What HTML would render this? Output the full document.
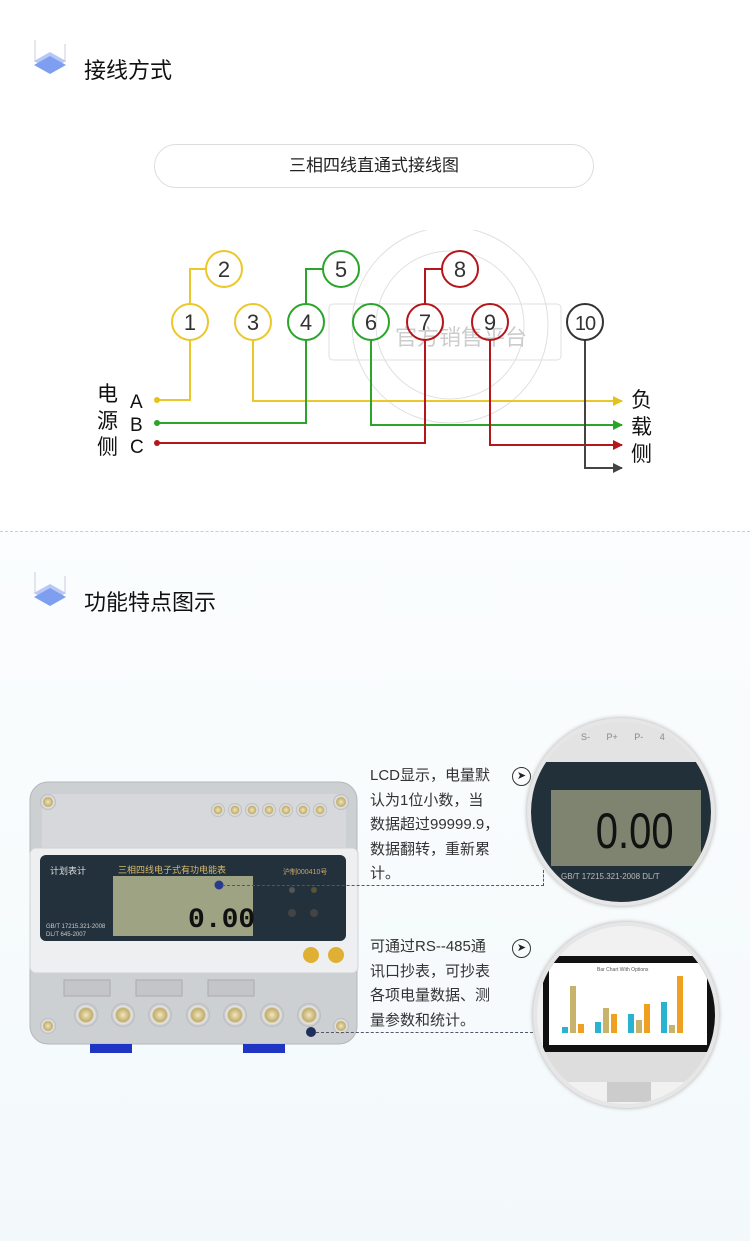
<!DOCTYPE html>
<html><head><meta charset="utf-8"><style>
*{margin:0;padding:0;box-sizing:border-box}
body{width:750px;height:1241px;position:relative;overflow:hidden;background:#fff;font-family:"Liberation Sans","Noto Sans CJK SC",sans-serif;color:#222}
.abs{position:absolute}
.h{font-size:22px;color:#111}
.txt{font-size:15px;line-height:24.5px;color:#333}
</style></head><body>
<div class="abs" style="left:0;top:532px;width:750px;height:709px;background:linear-gradient(#fbfdfe,#f3f9fb)"></div>
<div class="abs" style="left:0;top:531px;width:750px;border-top:1px dashed #ccc"></div>

<svg class="abs" style="left:32px;top:40px" width="40" height="40">
<line x1="3" y1="0" x2="3" y2="22" stroke="#ccd"/>
<line x1="33" y1="4" x2="33" y2="22" stroke="#ccd"/>
<polygon points="18,12 34,21 18,30 2,21" fill="#b8c8f6"/>
<polygon points="18,16 34,25 18,34 2,25" fill="#7e9ff0"/>
</svg>
<div class="abs h" style="left:84px;top:53px">接线方式</div>
<svg class="abs" style="left:32px;top:572px" width="40" height="40">
<line x1="3" y1="0" x2="3" y2="22" stroke="#ccd"/>
<line x1="33" y1="4" x2="33" y2="22" stroke="#ccd"/>
<polygon points="18,12 34,21 18,30 2,21" fill="#b8c8f6"/>
<polygon points="18,16 34,25 18,34 2,25" fill="#7e9ff0"/>
</svg>
<div class="abs h" style="left:84px;top:585px">功能特点图示</div>

<div class="abs" style="left:154px;top:144px;width:440px;height:44px;border:1px solid #ddd;border-radius:22px;text-align:center;line-height:42px;font-size:17px;color:#222">三相四线直通式接线图</div>

<svg class="abs" style="left:0;top:230px" width="750" height="260" font-family="Liberation Sans,sans-serif">
<defs>
<marker id="ay" markerWidth="10" markerHeight="10" refX="9" refY="5" orient="auto" markerUnits="userSpaceOnUse"><path d="M0,0L10,5L0,10z" fill="#e4c21c"/></marker>
<marker id="ag" markerWidth="10" markerHeight="10" refX="9" refY="5" orient="auto" markerUnits="userSpaceOnUse"><path d="M0,0L10,5L0,10z" fill="#2aa52a"/></marker>
<marker id="ar" markerWidth="10" markerHeight="10" refX="9" refY="5" orient="auto" markerUnits="userSpaceOnUse"><path d="M0,0L10,5L0,10z" fill="#b5161b"/></marker>
<marker id="ak" markerWidth="10" markerHeight="10" refX="9" refY="5" orient="auto" markerUnits="userSpaceOnUse"><path d="M0,0L10,5L0,10z" fill="#444"/></marker>
</defs>
<g opacity="0.3" fill="none" stroke="#999">
<circle cx="450" cy="95" r="98"/><circle cx="450" cy="95" r="74"/>
<rect x="329" y="74" width="232" height="56" rx="4"/>
</g>
<text x="395" y="115" font-size="22" fill="#ccc" font-family="Noto Sans CJK SC,sans-serif">官方销售平台</text>
<g fill="none" stroke-width="2">
<path d="M157,170H190V109" stroke="#ecc72a"/>
<path d="M190,75V39H207" stroke="#ecc72a"/>
<path d="M253,109V171H622" stroke="#ecc72a" marker-end="url(#ay)"/>
<path d="M157,193H306V109" stroke="#2aa52a"/>
<path d="M306,75V39H324" stroke="#2aa52a"/>
<path d="M371,109V195H622" stroke="#2aa52a" marker-end="url(#ag)"/>
<path d="M157,213H425V109" stroke="#b5161b"/>
<path d="M425,75V39H443" stroke="#b5161b"/>
<path d="M490,109V215H622" stroke="#b5161b" marker-end="url(#ar)"/>
<path d="M585,109V238H622" stroke="#444" marker-end="url(#ak)"/>
</g>
<circle cx="157" cy="170" r="3" fill="#e4c21c"/><circle cx="157" cy="193" r="3" fill="#2aa52a"/><circle cx="157" cy="213" r="3" fill="#b5161b"/>
<g fill="none" stroke-width="2">
<circle cx="190" cy="92" r="18" stroke="#ecc72a"/><circle cx="224" cy="39" r="18" stroke="#ecc72a"/><circle cx="253" cy="92" r="18" stroke="#ecc72a"/>
<circle cx="306" cy="92" r="18" stroke="#2aa52a"/><circle cx="341" cy="39" r="18" stroke="#2aa52a"/><circle cx="371" cy="92" r="18" stroke="#2aa52a"/>
<circle cx="425" cy="92" r="18" stroke="#b5161b"/><circle cx="460" cy="39" r="18" stroke="#b5161b"/><circle cx="490" cy="92" r="18" stroke="#b5161b"/>
<circle cx="585" cy="92" r="18" stroke="#333"/>
</g>
<g font-size="22" fill="#333" text-anchor="middle">
<text x="190" y="100">1</text><text x="224" y="47">2</text><text x="253" y="100">3</text><text x="306" y="100">4</text><text x="341" y="47">5</text><text x="371" y="100">6</text><text x="425" y="100">7</text><text x="460" y="47">8</text><text x="490" y="100">9</text><text x="585" y="100" font-size="20" letter-spacing="-1">10</text>
</g>
<g font-size="21" fill="#111" font-family="Liberation Sans,Noto Sans CJK SC,sans-serif">
<text x="97" y="171">电</text><text x="97" y="198">源</text><text x="97" y="224">侧</text>
<text x="130" y="178" font-size="19">A</text><text x="130" y="201" font-size="19">B</text><text x="130" y="223" font-size="19">C</text>
<text x="631" y="177">负</text><text x="631" y="204">载</text><text x="631" y="231">侧</text>
</g>
</svg>

<!-- meter -->
<svg class="abs" style="left:28px;top:780px" width="332" height="275" font-family="Liberation Sans,Noto Sans CJK SC,sans-serif">
<defs>
<radialGradient id="sc"><stop offset="0" stop-color="#f0e6c0"/><stop offset="0.55" stop-color="#c2ae6c"/><stop offset="0.7" stop-color="#e6e6e6"/><stop offset="1" stop-color="#b5b7ba"/></radialGradient>
</defs>
<rect x="2" y="2" width="327" height="262" rx="18" fill="#cdd0d3" stroke="#b5b8bb"/>
<rect x="14" y="14" width="304" height="60" rx="6" fill="#d6d8db"/>
<g fill="url(#sc)">
<circle cx="20" cy="22" r="8"/><circle cx="313" cy="22" r="8"/><circle cx="20" cy="246" r="8"/><circle cx="313" cy="246" r="8"/>
<circle cx="190" cy="30" r="7"/><circle cx="207" cy="30" r="7"/><circle cx="224" cy="30" r="7"/><circle cx="241" cy="30" r="7"/><circle cx="258" cy="30" r="7"/><circle cx="275" cy="30" r="7"/><circle cx="292" cy="30" r="7"/>
</g>
<rect x="2" y="68" width="328" height="125" rx="6" fill="#eeeff0" stroke="#d0d2d4"/>
<rect x="12" y="75" width="306" height="86" rx="6" fill="#23313c"/>
<rect x="85" y="96" width="140" height="60" fill="#9ea384"/>
<text x="90" y="93" font-size="9" fill="#d9b96a">三相四线电子式有功电能表</text>
<text x="22" y="94" font-size="9" fill="#ddd">计划表计</text>
<text x="255" y="94" font-size="7" fill="#c9a66a">沪制000410号</text>
<text x="160" y="147" font-size="28" font-weight="bold" fill="#111" font-family="Liberation Mono,monospace">0.00</text>
<text x="18" y="148" font-size="6" fill="#ccc">GB/T 17215.321-2008</text>
<text x="18" y="156" font-size="6" fill="#ccc">DL/T 645-2007</text>
<circle cx="264" cy="110" r="3" fill="#555"/><circle cx="286" cy="110" r="3" fill="#553"/>
<circle cx="264" cy="133" r="4" fill="#444"/><circle cx="286" cy="133" r="4" fill="#444"/>
<circle cx="283" cy="175" r="8" fill="#e0b034"/><circle cx="308" cy="175" r="8" fill="#e0b034"/>
<rect x="36" y="200" width="46" height="16" fill="#c3c5c8" stroke="#aaa"/><rect x="108" y="200" width="46" height="16" fill="#c3c5c8" stroke="#aaa"/><rect x="180" y="200" width="46" height="16" fill="#c3c5c8" stroke="#aaa"/>
<g fill="url(#sc)">
<circle cx="58" cy="235" r="12"/><circle cx="95" cy="235" r="12"/><circle cx="132" cy="235" r="12"/><circle cx="170" cy="235" r="12"/><circle cx="207" cy="235" r="12"/><circle cx="244" cy="235" r="12"/><circle cx="281" cy="235" r="12"/>
</g>
<rect x="62" y="264" width="42" height="9" fill="#1f35c4"/>
<rect x="215" y="264" width="42" height="9" fill="#1f35c4"/>
<circle cx="283" cy="252" r="5" fill="#1e2f5a"/>
<circle cx="191" cy="105" r="4.5" fill="#2a3a8a"/>
</svg>

<div class="abs" style="left:222px;top:885px;width:322px;border-top:1px dashed #556"></div>
<div class="abs" style="left:543px;top:870px;height:16px;border-left:1px dashed #556"></div>
<div class="abs" style="left:316px;top:1032px;width:222px;border-top:1px dashed #556"></div>

<div class="abs txt" style="left:370px;top:764px">LCD显示，电量默<br>认为1位小数，当<br>数据超过99999.9，<br>数据翻转，重新累<br>计。</div>
<div class="abs txt" style="left:370px;top:935px">可通过RS--485通<br>讯口抄表，可抄表<br>各项电量数据、测<br>量参数和统计。</div>
<div class="abs" style="left:512px;top:767px;width:19px;height:19px;border:1.5px solid #333;border-radius:50%;font-size:11px;text-align:center;line-height:16px">&#10148;</div>
<div class="abs" style="left:512px;top:939px;width:19px;height:19px;border:1.5px solid #333;border-radius:50%;font-size:11px;text-align:center;line-height:16px">&#10148;</div>

<div class="abs" style="left:527px;top:718px;width:188px;height:188px;border-radius:50%;overflow:hidden;border:4px solid #e6e6e6;box-shadow:0 0 4px #aaa;background:#e3e3e3">
 <div class="abs" style="left:0;top:40px;width:188px;height:140px;background:#22303a"></div>
 <div class="abs" style="left:20px;top:68px;width:150px;height:76px;background:#7e8470"></div>
 <div class="abs" style="left:55px;top:80px;font-size:50px;color:#111;transform:scaleX(.8)">0.00</div>
 <div class="abs" style="left:30px;top:150px;font-size:8px;color:#bbb">GB/T 17215.321-2008  DL/T</div>
 <div class="abs" style="left:50px;top:10px;font-size:9px;color:#888;word-spacing:14px">S- P+ P- 4</div>
</div>
<div class="abs" style="left:533px;top:922px;width:186px;height:186px;border-radius:50%;overflow:hidden;border:4px solid #e6e6e6;box-shadow:0 0 4px #aaa;background:#f1f1f1">
 <svg class="abs" style="left:0;top:0" width="186" height="186">
  <rect x="6" y="30" width="172" height="96" fill="#111"/>
  <rect x="12" y="37" width="158" height="82" fill="#fff"/>
  <text x="60" y="45" font-size="5" fill="#555">Bar Chart With Options</text>
  <g>
  <rect x="25" y="101" width="6" height="6" fill="#2ab3d0"/><rect x="33" y="60" width="6" height="47" fill="#c8b36d"/><rect x="41" y="98" width="6" height="9" fill="#f0a020"/>
  <rect x="58" y="96" width="6" height="11" fill="#2ab3d0"/><rect x="66" y="82" width="6" height="25" fill="#c8b36d"/><rect x="74" y="88" width="6" height="19" fill="#f0a020"/>
  <rect x="91" y="88" width="6" height="19" fill="#2ab3d0"/><rect x="99" y="94" width="6" height="13" fill="#c8b36d"/><rect x="107" y="78" width="6" height="29" fill="#f0a020"/>
  <rect x="124" y="76" width="6" height="31" fill="#2ab3d0"/><rect x="132" y="99" width="6" height="8" fill="#c8b36d"/><rect x="140" y="50" width="6" height="57" fill="#f0a020"/>
  </g>
  <rect x="6" y="126" width="172" height="30" fill="#ddd"/>
  <rect x="70" y="156" width="44" height="20" fill="#ccc"/>
 </svg>
</div>
</body></html>
